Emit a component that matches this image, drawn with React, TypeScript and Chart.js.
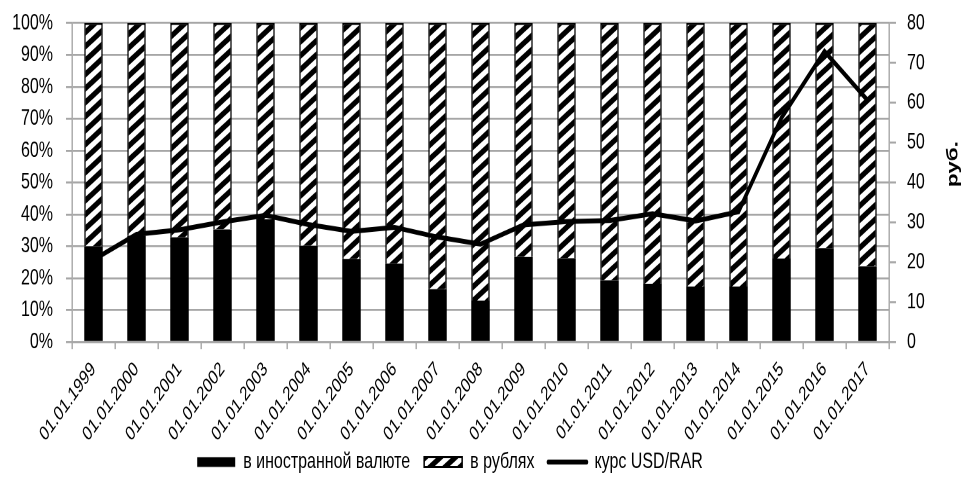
import React, { useEffect, useRef } from 'react';
import { Chart, registerables } from 'chart.js';

Chart.register(...registerables);

const categories = [
  '01.01.1999', '01.01.2000', '01.01.2001', '01.01.2002', '01.01.2003',
  '01.01.2004', '01.01.2005', '01.01.2006', '01.01.2007', '01.01.2008',
  '01.01.2009', '01.01.2010', '01.01.2011', '01.01.2012', '01.01.2013',
  '01.01.2014', '01.01.2015', '01.01.2016', '01.01.2017',
];

// share of deposits in foreign currency, %
const foreignShare = [30.0, 33.3, 32.8, 35.3, 38.5, 30.2, 26.0, 24.6, 16.6, 13.0, 26.7, 26.3, 19.3, 18.3, 17.4, 17.4, 26.2, 29.4, 23.7];
// share of deposits in rubles, %
const rubleShare = [70.0, 66.7, 67.2, 64.7, 61.5, 69.8, 74.0, 75.4, 83.4, 87.0, 73.3, 73.7, 80.7, 81.7, 82.6, 82.6, 73.8, 70.6, 76.3];
// USD/RUB exchange rate, rub.
const usdRate = [20.65, 27.0, 28.16, 30.14, 31.78, 29.45, 27.75, 28.78, 26.33, 24.55, 29.39, 30.19, 30.48, 32.2, 30.37, 32.66, 56.24, 72.88, 60.66];

const seriesNames = ['в иностранной валюте', 'в рублях', 'курс USD/RAR'];
const rightAxisTitle = 'руб.';

const FONT = "'Liberation Sans', Arial, sans-serif";
const GRID = '#a6a6a6';

// the reference is drawn vertically stretched; draw at reduced height, then stretch
const W = 964;
const H = 482;
const STRETCH = 1.401;
const IH = Math.round(H / STRETCH); // 344
const AREA_TOP = 23 / STRETCH;
const AREA_BOTTOM = 342 / STRETCH;
const LEGEND_CENTER = 462 / STRETCH;
const LEGEND_H = 18;
const LEGEND_SHIFT_X = -32;

function makeHatch(): CanvasPattern | string {
  const tw = 30;
  const th = 20;
  const c = document.createElement('canvas');
  c.width = tw;
  c.height = th;
  const g = c.getContext('2d');
  if (!g) return '#888';
  g.fillStyle = '#fff';
  g.fillRect(0, 0, tw, th);
  g.strokeStyle = '#000';
  g.lineWidth = 8.5;
  for (let k = -1; k <= 1; k++) {
    g.beginPath();
    g.moveTo(-tw, 2 * th + k * th);
    g.lineTo(2 * tw, -th + k * th);
    g.stroke();
  }
  const p = g.createPattern(c, 'repeat');
  if (!p) return '#888';
  try {
    p.setTransform(new DOMMatrix([0.5, 0, 0, 0.5, 0, 0]));
  } catch (e) {
    /* ignore */
  }
  return p;
}

const rightTitlePlugin = {
  id: 'rightTitle',
  afterDraw(chart: any) {
    const ctx = chart.ctx;
    ctx.save();
    ctx.font = `bold 16px ${FONT}`;
    ctx.fillStyle = '#000';
    ctx.textAlign = 'center';
    ctx.textBaseline = 'middle';
    ctx.translate(953, 164 / STRETCH);
    ctx.rotate(-Math.PI / 2);
    ctx.fillText(rightAxisTitle, 0, 0);
    ctx.restore();
  },
};

const legendShiftPlugin = {
  id: 'legendShift',
  afterLayout(chart: any) {
    const lg = chart.legend;
    if (!lg) return;
    const pad = lg.options.labels.padding;
    const itemH = 16;
    lg.top = LEGEND_CENTER - pad - itemH / 2;
    lg.bottom = IH;
    lg.height = lg.bottom - lg.top;
    lg.left += LEGEND_SHIFT_X;
    lg.right += LEGEND_SHIFT_X;
  },
};

export default function App() {
  const ref = useRef<HTMLCanvasElement | null>(null);

  useEffect(() => {
    document.body.style.margin = '0';
    const canvas = ref.current;
    if (!canvas) return;
    const hatch = makeHatch();
    const font = { family: FONT, size: 16 };

    const chart = new Chart(canvas, {
      type: 'bar',
      data: {
        labels: categories,
        datasets: [
          {
            type: 'bar',
            label: seriesNames[0],
            data: foreignShare,
            backgroundColor: '#000',
            borderColor: '#000',
            borderWidth: 0,
            stack: 's',
            yAxisID: 'y',
            order: 2,
            barPercentage: 0.43,
            categoryPercentage: 1,
          },
          {
            type: 'bar',
            label: seriesNames[1],
            data: rubleShare,
            backgroundColor: hatch as any,
            borderColor: '#000',
            borderWidth: 1.5,
            stack: 's',
            yAxisID: 'y',
            order: 2,
            barPercentage: 0.43,
            categoryPercentage: 1,
          },
          {
            type: 'line',
            label: seriesNames[2],
            data: usdRate,
            borderColor: '#000',
            backgroundColor: '#000',
            borderWidth: 3.5,
            pointRadius: 0,
            tension: 0,
            yAxisID: 'y1',
            order: 1,
          },
        ] as any,
      },
      options: {
        responsive: false,
        maintainAspectRatio: false,
        animation: false,
        devicePixelRatio: 2,
        layout: { padding: { top: AREA_TOP, left: 0, right: 0, bottom: 0 } },
        scales: {
          x: {
            stacked: true,
            offset: true,
            grid: {
              display: true,
              drawOnChartArea: false,
              drawTicks: true,
              tickLength: 5,
              color: GRID,
              lineWidth: 1.4,
              offset: true,
            },
            border: { display: true, color: GRID, width: 1.4 },
            ticks: {
              font: { family: FONT, size: 14.5 },
              color: '#000',
              autoSkip: false,
              minRotation: 45,
              maxRotation: 45,
              padding: 6,
            },
            afterFit: (s: any) => {
              s.height = IH - AREA_BOTTOM - LEGEND_H;
            },
          },
          y: {
            stacked: true,
            position: 'left',
            min: 0,
            max: 100,
            grid: { color: GRID, lineWidth: 1.4, tickLength: 6 },
            border: { display: true, color: GRID, width: 1.4 },
            ticks: {
              stepSize: 10,
              autoSkip: false,
              font,
              color: '#000',
              padding: 13,
              callback: (v: any) => `${v}%`,
            },
            afterFit: (s: any) => { s.width = 72; s.paddingTop = 0; s.paddingBottom = 0; },
          },
          y1: {
            position: 'right',
            min: 0,
            max: 80,
            grid: { drawOnChartArea: false, color: GRID, lineWidth: 1.4, tickLength: 7 },
            border: { display: true, color: GRID, width: 1.4 },
            ticks: { stepSize: 10, autoSkip: false, font, color: '#000', padding: 11 },
            afterFit: (s: any) => { s.width = 75; s.paddingTop = 0; s.paddingBottom = 0; },
          },
        },
        plugins: {
          tooltip: { enabled: false },
          legend: {
            position: 'bottom',
            maxHeight: LEGEND_H,
            labels: {
              usePointStyle: true,
              pointStyleWidth: 38,
              boxHeight: 7,
              font,
              color: '#000',
              padding: 14,
              sort: (a: any, b: any) => a.datasetIndex - b.datasetIndex,
              generateLabels: (ch: any) => {
                const items = Chart.defaults.plugins.legend.labels.generateLabels(ch);
                return items.map((it: any) => {
                  if (it.datasetIndex === 0) {
                    return { ...it, pointStyle: 'rect', fillStyle: '#000', strokeStyle: '#000', lineWidth: 0, rotation: 0 };
                  }
                  if (it.datasetIndex === 1) {
                    return { ...it, pointStyle: 'rect', fillStyle: hatch, strokeStyle: '#000', lineWidth: 1.5, rotation: 0 };
                  }
                  return { ...it, pointStyle: 'line', strokeStyle: '#000', fillStyle: '#000', lineWidth: 3.5, lineCap: 'round', rotation: 0 };
                });
              },
            },
          },
        },
      },
      plugins: [rightTitlePlugin, legendShiftPlugin],
    } as any);

    return () => chart.destroy();
  }, []);

  return (
    <div style={{ width: W, height: H, overflow: 'hidden', position: 'relative' }}>
      <div
        style={{
          width: W,
          height: IH,
          transform: `scaleY(${H / IH})`,
          transformOrigin: '0 0',
        }}
      >
        <canvas ref={ref} style={{ width: W, height: IH, display: 'block' }} width={W} height={IH} />
      </div>
    </div>
  );
}
